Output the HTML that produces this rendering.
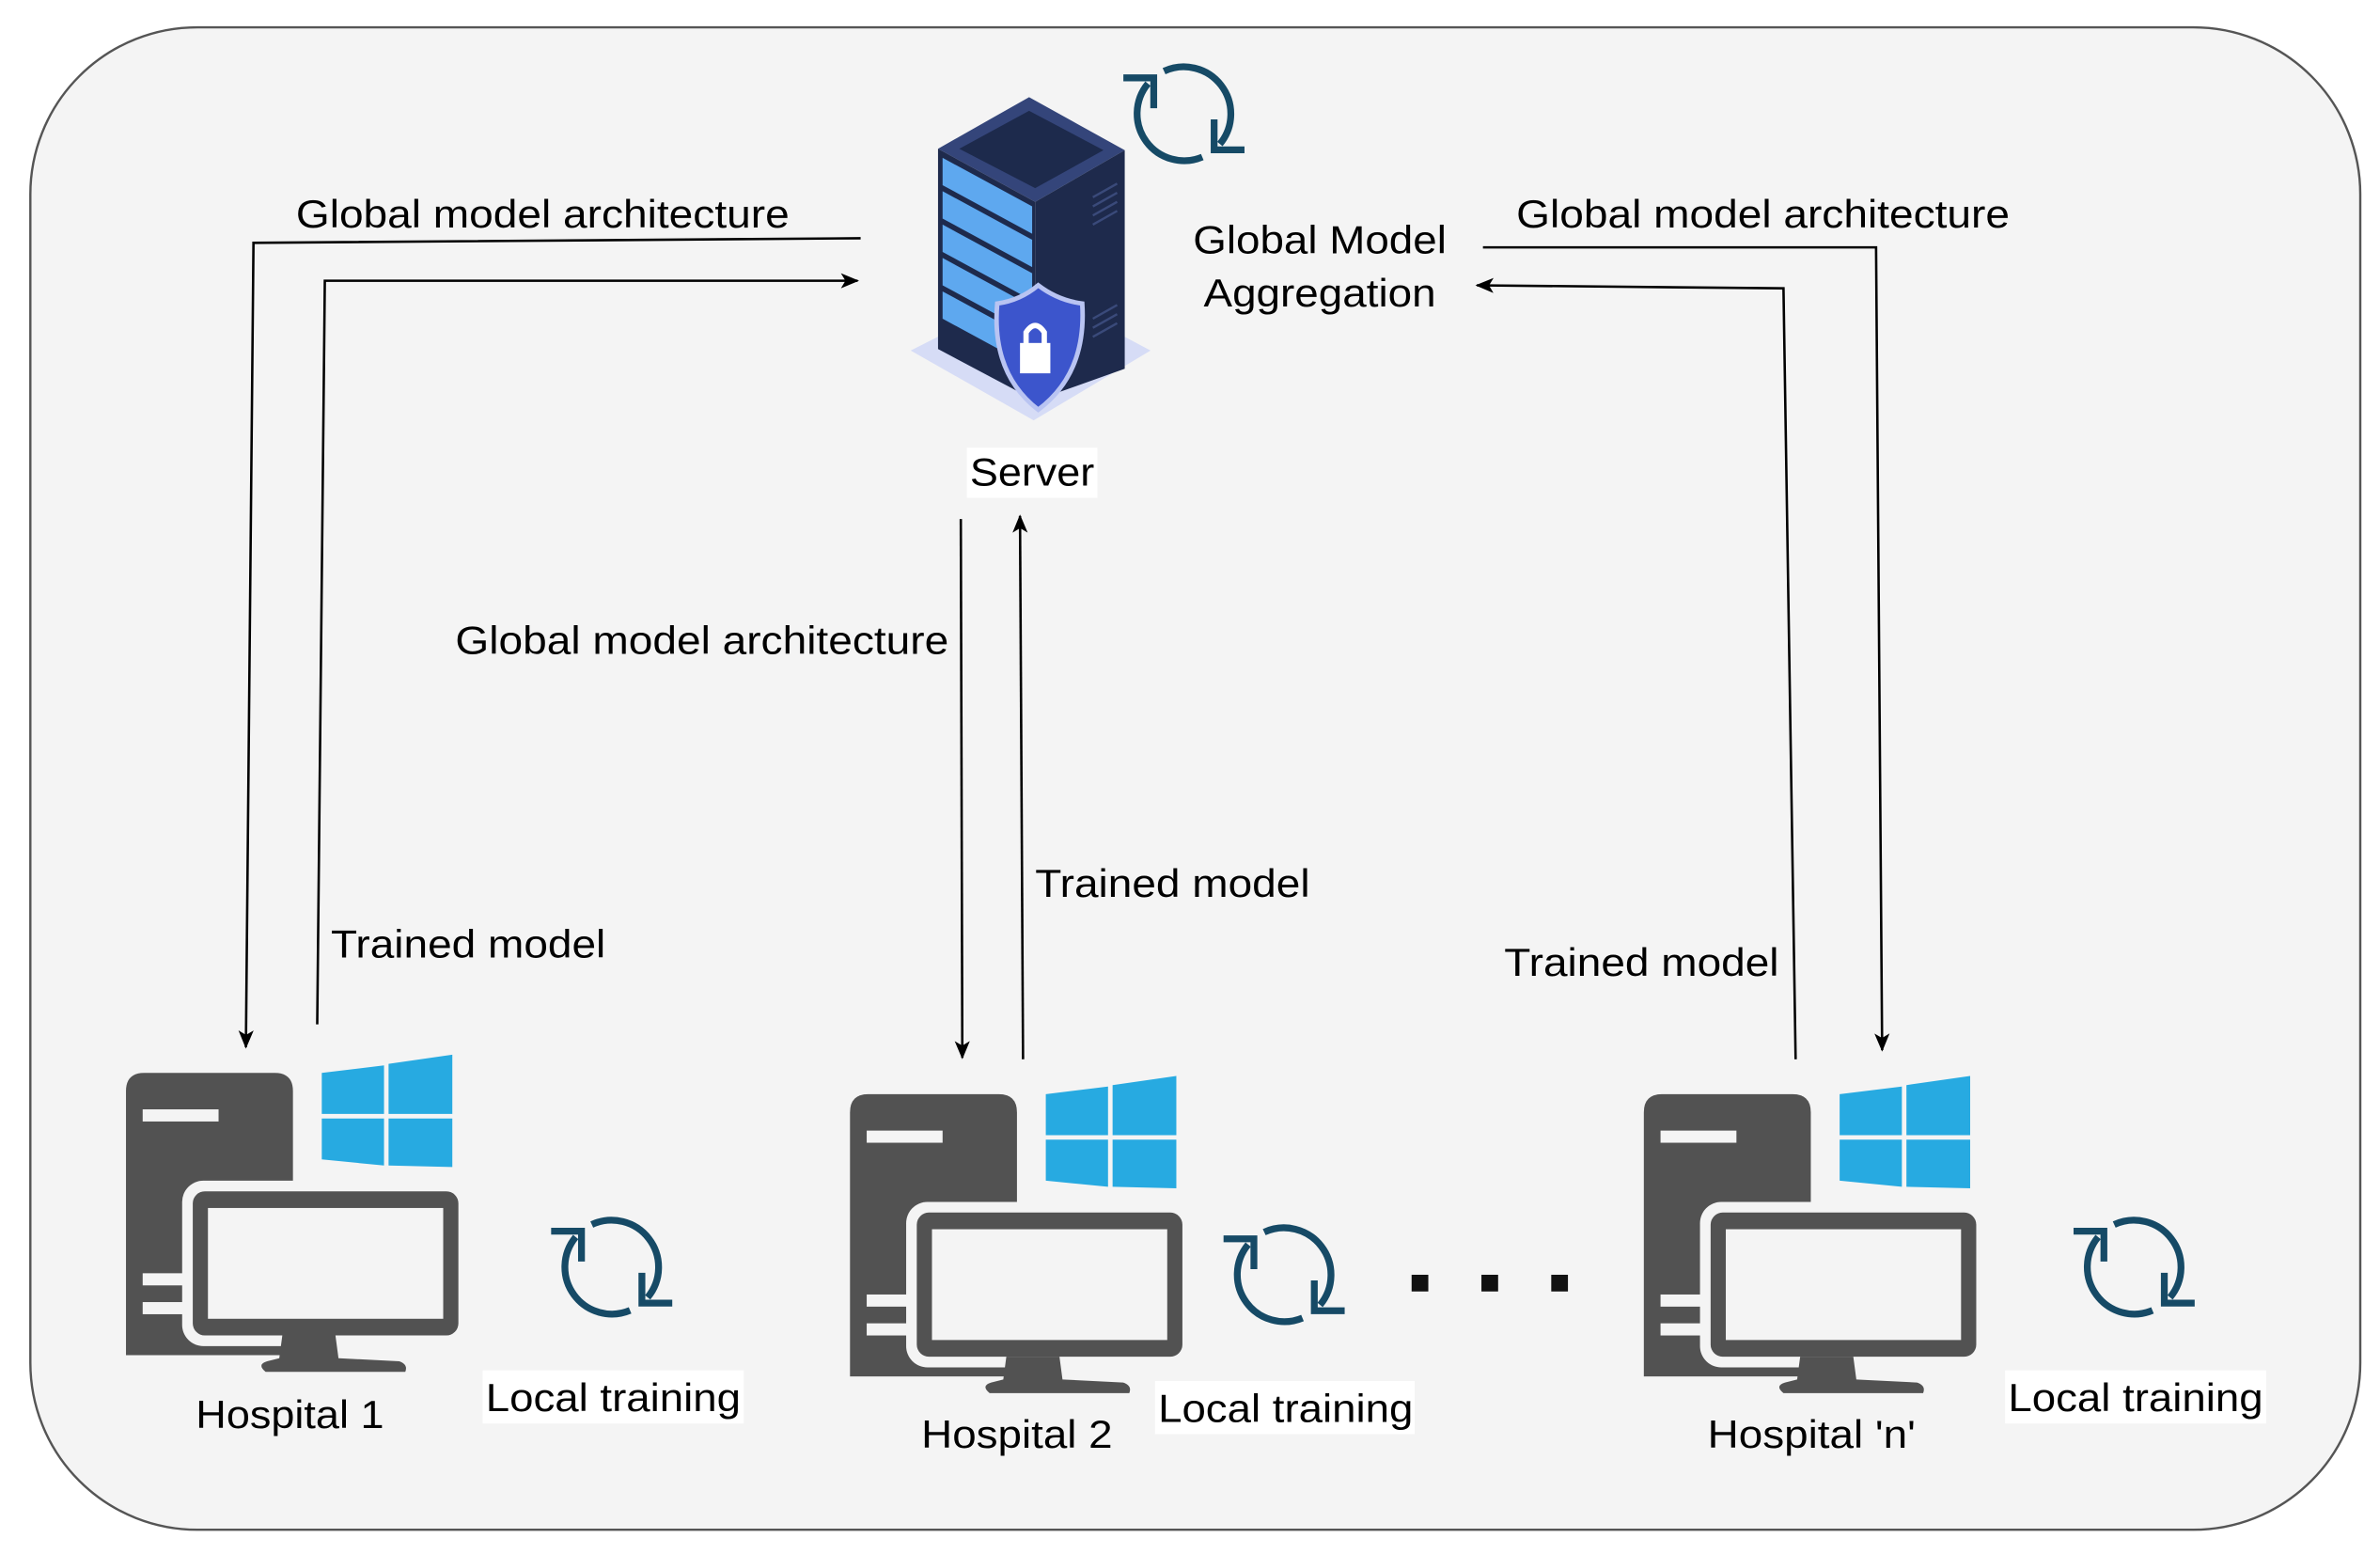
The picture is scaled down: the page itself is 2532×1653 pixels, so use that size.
<!DOCTYPE html>
<html><head><meta charset="utf-8"><style>
html,body{margin:0;padding:0;background:#fff;}
svg{display:block;}
text{font-family:"Liberation Sans",Arial,sans-serif;fill:#000;}
</style></head><body>
<svg width="2532" height="1653" viewBox="0 0 1568 1024" preserveAspectRatio="none" xmlns="http://www.w3.org/2000/svg">
<defs>
<marker id="ah" viewBox="0 0 12 10" refX="11" refY="5" markerWidth="12" markerHeight="10" markerUnits="userSpaceOnUse" orient="auto">
<path d="M0,0 L12,5 L0,10 L3,5 Z" fill="#000"/>
</marker>
<g id="hosp">
  <path d="M0,12 Q0,0 12,0 L98,0 Q110,0 110,12 L110,186 L0,186 Z" fill="#525252"/>
  <rect x="11" y="24" width="50" height="8" fill="#f4f4f4"/>
  <rect x="11" y="132" width="30" height="8" fill="#f4f4f4"/>
  <rect x="11" y="151" width="30" height="8" fill="#f4f4f4"/>
  <rect x="37" y="71" width="189" height="109" rx="14" fill="#f4f4f4"/>
  <rect x="44" y="78" width="175" height="95" rx="8" fill="#525252"/>
  <rect x="54" y="89" width="155" height="73" fill="#f4f4f4"/>
  <path d="M103,173 L138,173 L140,188 L180,190 Q186,192 184,197 L92,197 Q86,192 93,190 L101,188 Z" fill="#525252"/>
  <polygon points="129,0 170,-5 170,27 129,27" fill="#27aae1"/>
  <polygon points="173,-6 215,-12 215,27 173,27" fill="#27aae1"/>
  <polygon points="129,30 170,30 170,61 129,57" fill="#27aae1"/>
  <polygon points="173,30 215,30 215,62 173,61" fill="#27aae1"/>
</g>
<g id="ref" fill="none" stroke="#164a66" stroke-width="4.5">
  <path d="M-13.1,-28.1 A31,31 0 0 1 23.7,19.9"/>
  <path d="M12.1,28.5 A31,31 0 0 1 -23.7,-19.9"/>
  <polyline points="19.9,3.7 19.9,23.7 39.9,23.7"/>
  <polyline points="-19.9,-3.7 -19.9,-23.7 -39.9,-23.7"/>
</g>
</defs>
<rect x="0" y="0" width="1568" height="1024" fill="#fff"/>
<rect x="20" y="18" width="1535" height="990" rx="110" ry="110" fill="#f4f4f4" stroke="#555" stroke-width="1.5"/>

<!-- server -->
<polygon points="600,231 681,190 758,231 681,277" fill="#d6dcf6"/>
<polygon points="618,98 678,64 741,99 682,133" fill="#34457a"/>
<polygon points="632,98 678,73 727,99 682,124" fill="#1d2a4c"/>
<polygon points="618,98 682,133 682,264 618,230" fill="#1e2a4c"/>
<polygon points="682,133 741,99 741,243 682,264" fill="#1e2a4c"/>
<g fill="#5ea8ef">
<polygon points="621,104 680,136 680,154 621,122"/>
<polygon points="621,126 680,158 680,176 621,144"/>
<polygon points="621,148 680,180 680,198 621,166"/>
<polygon points="621,170 680,202 680,220 621,188"/>
<polygon points="621,192 680,224 680,242 621,210"/>
</g>
<g stroke="#3a4a7a" stroke-width="1.5">
<line x1="720" y1="130" x2="736" y2="121"/><line x1="720" y1="136" x2="736" y2="127"/><line x1="720" y1="142" x2="736" y2="133"/><line x1="720" y1="148" x2="736" y2="139"/>
<line x1="720" y1="210" x2="736" y2="201"/><line x1="720" y1="216" x2="736" y2="207"/><line x1="720" y1="222" x2="736" y2="213"/>
</g>
<path d="M657,200 Q672,198 684,188 Q697,198 713,200 Q716,246 684,270 Q653,246 657,200 Z" fill="#3c55cc" stroke="#b9c4f2" stroke-width="3"/>
<rect x="672" y="226" width="20" height="20" fill="#fff"/>
<path d="M676,227 L676,219 Q682,210 688,219 L688,227" fill="none" stroke="#fff" stroke-width="3.5"/>

<use href="#ref" x="780" y="75"/>
<text x="786" y="167" font-size="26" textLength="167" lengthAdjust="spacingAndGlyphs">Global Model</text>
<text x="793" y="202" font-size="26" textLength="153" lengthAdjust="spacingAndGlyphs">Aggregation</text>
<rect x="637" y="295" width="86" height="33" fill="#fff"/>
<text x="639" y="320" font-size="26" textLength="82" lengthAdjust="spacingAndGlyphs">Server</text>

<g fill="none" stroke="#000" stroke-width="1.6">
<polyline points="567,157 167,160 162,690" marker-end="url(#ah)"/>
<polyline points="209,675 214,185 565,185" marker-end="url(#ah)"/>
<polyline points="633,342 634,697" marker-end="url(#ah)"/>
<polyline points="674,698 672,340" marker-end="url(#ah)"/>
<polyline points="977,163 1236,163 1240,692" marker-end="url(#ah)"/>
<polyline points="1183,698 1175,190 973,188" marker-end="url(#ah)"/>
</g>

<text x="195" y="150" font-size="26" textLength="325" lengthAdjust="spacingAndGlyphs">Global model architecture</text>
<text x="999" y="150" font-size="26" textLength="325" lengthAdjust="spacingAndGlyphs">Global model architecture</text>
<text x="300" y="431" font-size="26" textLength="325" lengthAdjust="spacingAndGlyphs">Global model architecture</text>
<text x="218" y="631" font-size="26" textLength="181" lengthAdjust="spacingAndGlyphs">Trained model</text>
<text x="682" y="591" font-size="26" textLength="181" lengthAdjust="spacingAndGlyphs">Trained model</text>
<text x="991" y="643" font-size="26" textLength="181" lengthAdjust="spacingAndGlyphs">Trained model</text>

<use href="#hosp" x="83" y="707"/>
<use href="#hosp" x="560" y="721"/>
<use href="#hosp" x="1083" y="721"/>

<use href="#ref" x="403" y="835"/>
<use href="#ref" x="846" y="840"/>
<use href="#ref" x="1406" y="835"/>

<text x="129" y="941" font-size="26" textLength="124" lengthAdjust="spacingAndGlyphs">Hospital 1</text>
<text x="607" y="954" font-size="26" textLength="126" lengthAdjust="spacingAndGlyphs">Hospital 2</text>
<text x="1125" y="954" font-size="26" textLength="137" lengthAdjust="spacingAndGlyphs">Hospital 'n'</text>

<rect x="318" y="903" width="172" height="35" fill="#fff"/>
<text x="320" y="930" font-size="26" textLength="168" lengthAdjust="spacingAndGlyphs">Local training</text>
<rect x="761" y="910" width="171" height="35" fill="#fff"/>
<text x="763" y="937" font-size="26" textLength="168" lengthAdjust="spacingAndGlyphs">Local training</text>
<rect x="1321" y="903" width="172" height="35" fill="#fff"/>
<text x="1323" y="930" font-size="26" textLength="168" lengthAdjust="spacingAndGlyphs">Local training</text>

<rect x="930" y="840" width="11" height="11" fill="#111"/>
<rect x="976" y="840" width="11" height="11" fill="#111"/>
<rect x="1022" y="840" width="11" height="11" fill="#111"/>
</svg>
</body></html>
